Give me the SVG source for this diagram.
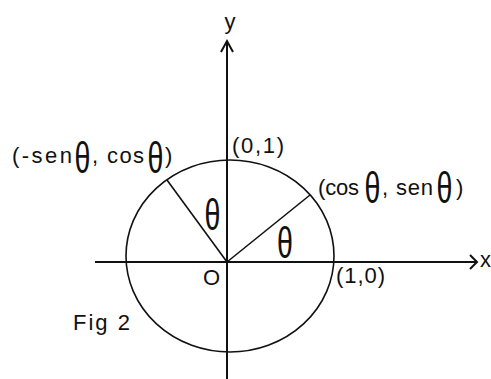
<svg xmlns="http://www.w3.org/2000/svg" width="491" height="379" viewBox="0 0 491 379">
<style>
text{font-family:"Liberation Sans",Arial,sans-serif;fill:#111;font-size:22px}
.th{text-anchor:middle}
.ax{stroke:#111;stroke-width:2;fill:none}
.ln{stroke:#111;stroke-width:1.6;fill:none}
</style>
<rect width="491" height="379" fill="#fff"/>
<g id="circle"><ellipse class="ln" cx="230" cy="256" rx="104" ry="96"/></g>
<g id="connectors">
<line class="ax" x1="95" y1="262" x2="477" y2="262"/>
<polyline class="ax" points="470,255 477,262 470,269"/>
<line class="ax" x1="227" y1="41" x2="227" y2="379"/>
<polyline class="ax" points="221,52 227,41 233,52"/>
<line class="ln" x1="227" y1="262" x2="310" y2="195"/>
<line class="ln" x1="227" y1="262" x2="167" y2="180"/>
</g>
<g id="label-y"><text x="230" y="29" font-size="20" text-anchor="middle">y</text></g>
<g id="label-x"><text x="480" y="267">x</text></g>
<g id="label-O"><text x="203" y="285" font-size="23">O</text></g>
<g id="label-01"><text x="232" y="153" font-size="20" textLength="52" lengthAdjust="spacing">(0,1)</text></g>
<g id="label-10"><text x="336" y="283" font-size="20" textLength="49" lengthAdjust="spacing">(1,0)</text></g>
<g id="label-fig"><text x="73" y="330" font-size="26" textLength="57" lengthAdjust="spacing">Fig 2</text></g>
<g id="label-left">
<text x="12" y="163" textLength="60" lengthAdjust="spacing">(-sen</text>
<text class="th" transform="translate(82.5,173) scale(1.3,2.05)">θ</text>
<text x="92" y="163" textLength="52" lengthAdjust="spacing">, cos</text>
<text class="th" transform="translate(155.5,173) scale(1.3,2.05)">θ</text>
<text x="165" y="163">)</text>
</g>
<g id="label-right">
<text x="318" y="195" textLength="41" lengthAdjust="spacing">(cos</text>
<text class="th" transform="translate(372.5,203) scale(1.3,2.05)">θ</text>
<text x="382" y="195" textLength="51" lengthAdjust="spacing">, sen</text>
<text class="th" transform="translate(444.5,203) scale(1.3,2.05)">θ</text>
<text x="456" y="195">)</text>
</g>
<g id="theta-a"><text class="th" transform="translate(212.5,230) scale(1.3,2.05)">θ</text></g>
<g id="theta-b"><text class="th" transform="translate(285,258) scale(1.3,2.05)">θ</text></g>
</svg>
